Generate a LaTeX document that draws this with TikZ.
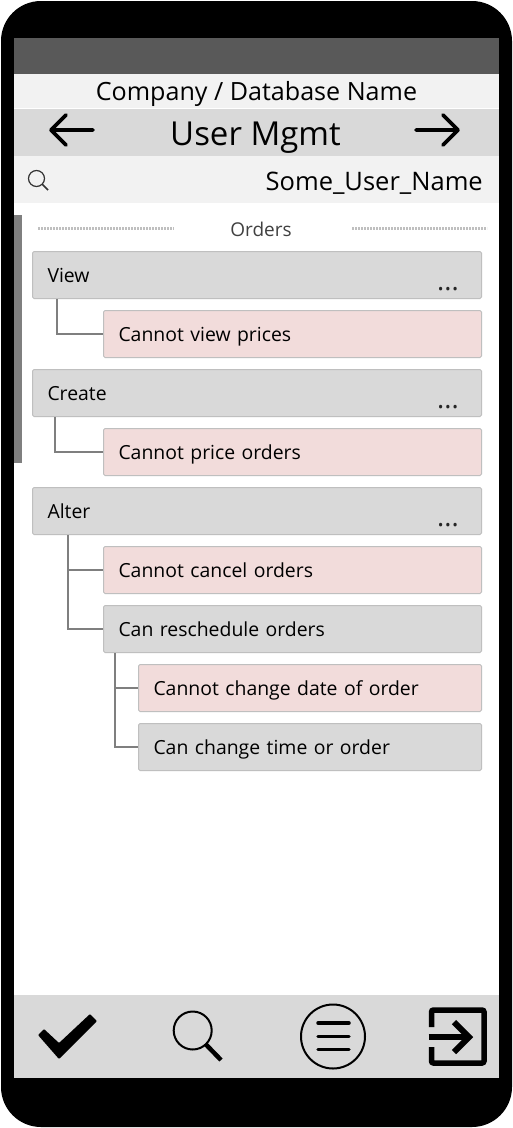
\documentclass[tikz,border=0pt]{standalone}
\usepackage{fontspec}
\setmainfont{Open Sans}
\usetikzlibrary{positioning}
\definecolor{barGray}{HTML}{D9D9D9}
\definecolor{barLight}{HTML}{F2F2F2}
\definecolor{barDark}{HTML}{595959}
\definecolor{denyPink}{HTML}{F2DCDB}
\definecolor{lineGray}{HTML}{7F7F7F}
\definecolor{edgeGray}{HTML}{BFBFBF}
\tikzset{
  rowbox/.style={draw=edgeGray, line width=1pt, rounded corners=1.5pt, anchor=north west, minimum height=47pt,
    inner xsep=15pt, inner ysep=0pt, align=left, font=\fontsize{19.4}{23}\selectfont, text height=14pt, text depth=0pt},
  allow/.style={rowbox, fill=barGray},
  deny/.style={rowbox, fill=denyPink},
  tree/.style={draw=lineGray, line width=2pt},
  icon/.style={draw=black, line width=3.6pt, line cap=round, line join=round},
  dots/.style={font=\fontsize{27}{30}\selectfont, text=black!85},
  rule/.style={draw=edgeGray, line width=3pt, dash pattern=on 1.8pt off 1.2pt}
}
\begin{document}
\begin{tikzpicture}[x=1pt, y=-1pt]
\useasboundingbox (0,0) rectangle (513,1128);
% phone body and screen
\fill[black, rounded corners=40pt] (1,1) rectangle (512,1127);
\fill[white] (14,38) rectangle (499,1078);
\fill[barDark] (14,38) rectangle (499,74);
\fill[barLight] (14,74) rectangle (499,108);
\fill[barGray] (14,109) rectangle (499,156);
\fill[barLight] (14,156) rectangle (499,203);
\fill[barGray] (14,995) rectangle (499,1078);
\fill[lineGray] (14,215) rectangle (22,463);
% header texts
\node[font=\fontsize{25.1}{28}\selectfont] (company) at (256.5,94) {Company / Database Name};
\node[font=\fontsize{33}{38}\selectfont] (title) at (255.5,138) {User Mgmt};
\node[font=\fontsize{25.5}{28}\selectfont, anchor=east, inner sep=0pt] (user) at (483,183) {Some\_User\_Name};
\node[font=\fontsize{19}{23}\selectfont, text=black!75] (section) at (261,229) {Orders};
% header arrows
\coordinate (backtail) at (93,130);
\coordinate (backtip) at (51,130);
\coordinate (nexttail) at (416,130);
\coordinate (nexttip) at (458,130);
\draw[icon] (backtail) -- (backtip) -- +(15,-15) (backtip) -- +(15,15);
\draw[icon] (nexttail) -- (nexttip) -- +(-15,-15) (nexttip) -- +(-15,15);
% small search
\draw[black!80, line width=1.2pt] (36.5,178.5) circle (8);
\draw[black!80, line width=1.5pt] (42,184) -- (48,190);
% section rules
\draw[rule] (38,228) -- (174,228);
\draw[rule] (352,228) -- (487,228);
% rows
\foreach \n/\s/\xx/\yy/\t in {
  view/allow/32/251/View,
  viewprice/deny/103/310/Cannot view prices,
  create/allow/32/369/Create,
  priceorder/deny/103/428/Cannot price orders,
  alter/allow/32/487/Alter,
  cancel/deny/103/546/Cannot cancel orders,
  resched/allow/103/605/Can reschedule orders,
  chdate/deny/138/664/Cannot change date of order,
  chtime/allow/138/723/Can change time or order}
{\pgfmathsetmacro{\ww}{481-\xx}
 \node[\s, minimum width=\ww pt, text width=\ww pt-30pt] (\n) at (\xx,\yy) {\t};}
\foreach \n in {view,create,alter}
{\node[dots, anchor=base east, inner sep=0pt] (\n dots) at ([xshift=-23pt, yshift=9pt]\n.south east) {...};}
% tree lines
\coordinate (viewroot) at (56.5,299);
\coordinate (createroot) at (54.5,417);
\coordinate (alterroot) at (68,535);
\coordinate (reschedroot) at (115,653);
\draw[tree] (viewroot) |- (viewprice.west);
\draw[tree] (createroot) |- (priceorder.west);
\draw[tree] (alterroot) |- (cancel.west);
\draw[tree] (alterroot) |- (resched.west);
\draw[tree] (reschedroot) |- (chdate.west);
\draw[tree] (reschedroot) |- (chtime.west);
% bottom icons
\fill[black, rounded corners=1pt] (38,1035) -- (44,1029) -- (59,1043) -- (90,1014) -- (97,1021) -- (59,1059) -- cycle;
\draw[black, line width=2pt] (192.7,1030.5) circle (19);
\draw[black, line width=4.5pt] (205.5,1044) -- (221,1060);
\draw[black, line width=2pt] (333,1036.5) circle (32);
\foreach \yy in {1023,1036.3,1049.5}
{\draw[black, line width=3.5pt, line cap=round] (318,\yy) -- (349,\yy);}
\draw[black, line width=5.5pt, rounded corners=2pt] (431.5,1027) -- (431.5,1010) -- (484,1010) -- (484,1063) -- (431.5,1063) -- (431.5,1047);
\draw[black, line width=6pt] (428.5,1037) -- (468,1037);
\draw[black, line width=6pt] (454,1022) -- (469,1037) -- (454,1052);
\end{tikzpicture}
\end{document}
